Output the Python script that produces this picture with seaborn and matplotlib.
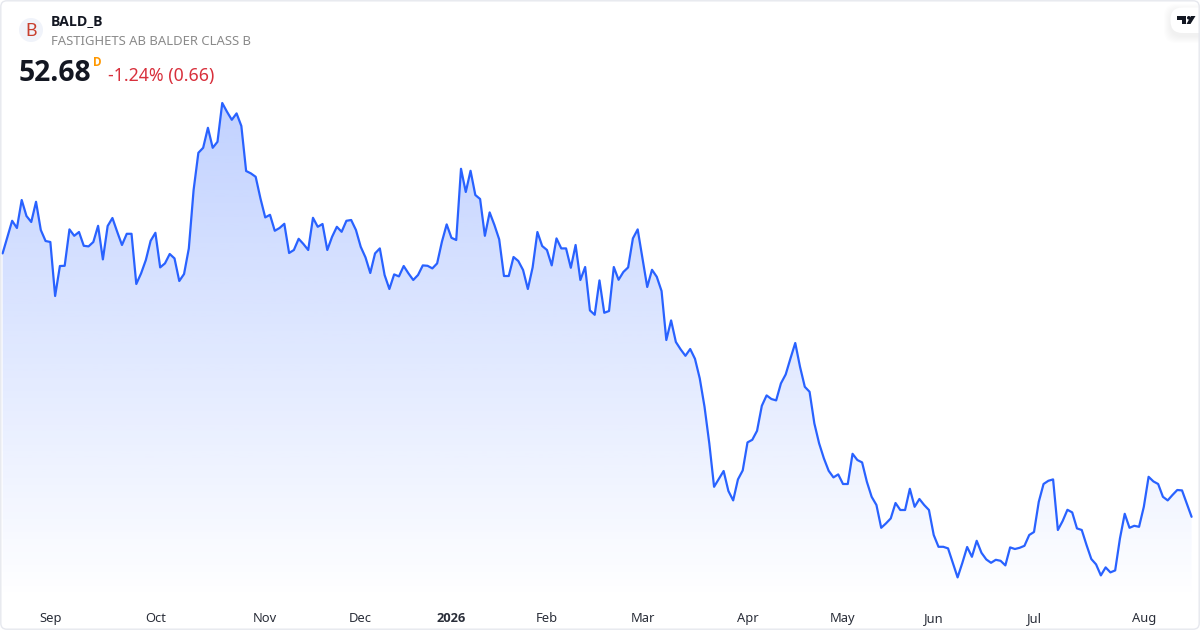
import matplotlib
matplotlib.use('Agg')
import matplotlib.pyplot as plt
from matplotlib.patches import FancyBboxPatch, Circle, Polygon
import seaborn as sns
import pandas as pd
import numpy as np

# Daily closes
closes = [
    65.85, 66.67, 67.48, 67.12, 68.52, 67.72, 67.42, 68.43, 67.02, 66.47,
    66.42, 63.72, 65.22, 65.23, 67.05, 66.73, 66.92, 66.23, 66.20, 66.42,
    67.23, 65.55, 67.22, 67.62, 66.93, 66.27, 66.83, 66.83, 64.32, 64.85,
    65.52, 66.48, 66.88, 65.15, 65.35, 65.82, 65.60, 64.47, 64.82, 66.10,
    69.02, 70.88, 71.13, 72.13, 71.13, 71.43, 73.37, 72.93, 72.53, 72.85,
    72.22, 69.97, 69.85, 69.68, 68.60, 67.65, 67.78, 66.98, 67.12, 67.33,
    65.87, 66.02, 66.58, 66.32, 66.02, 67.63, 67.18, 67.32, 66.02, 66.68,
    67.18, 66.93, 67.48, 67.52, 67.02, 66.18, 65.65, 64.87, 65.85, 66.10,
    64.77, 64.07, 64.80, 64.70, 65.22, 64.85, 64.52, 64.77, 65.25, 65.23,
    65.10, 65.35, 66.43, 67.30, 66.63, 66.52, 70.08, 68.92, 69.98, 68.77,
    68.57, 66.73, 67.90, 67.27, 66.55, 64.72, 64.72, 65.67, 65.47, 65.02,
    64.07, 65.15, 66.92, 66.22, 66.02, 65.25, 66.60, 66.10, 66.10, 65.13,
    66.27, 64.52, 65.17, 63.00, 62.78, 64.50, 62.88, 62.97, 65.17, 64.53,
    64.92, 65.15, 66.60, 67.05, 65.60, 64.17, 65.03, 64.68, 63.97, 61.52,
    62.50, 61.42, 61.05, 60.73, 61.07, 60.58, 59.60, 58.18, 56.35, 54.18,
    54.58, 54.97, 53.97, 53.50, 54.55, 55.00, 56.40, 56.53, 56.98, 58.23,
    58.75, 58.57, 58.50, 59.35, 59.80, 60.60, 61.37, 60.18, 59.18, 58.93,
    57.35, 56.35, 55.60, 54.98, 54.65, 54.80, 54.32, 54.32, 55.83, 55.52,
    55.40, 54.43, 53.68, 53.27, 52.13, 52.35, 52.60, 53.37, 53.02, 53.02,
    54.08, 53.18, 53.57, 53.27, 53.02, 51.77, 51.18, 51.18, 51.10, 50.38,
    49.65, 50.38, 51.17, 50.68, 51.48, 50.88, 50.55, 50.38, 50.53, 50.48,
    50.25, 51.15, 51.07, 51.13, 51.23, 51.77, 51.92, 53.43, 54.32, 54.48,
    54.55, 52.02, 52.47, 53.03, 52.90, 52.10, 52.02, 51.27, 50.57, 50.30,
    49.75, 50.15, 49.90, 50.00, 51.60, 52.83, 52.13, 52.23, 52.18, 53.18,
    54.68, 54.45, 54.32, 53.68, 53.50, 53.77, 54.02, 54.00, 53.34, 52.68,
]
month_labels = ['Sep', 'Oct', 'Nov', 'Dec', '2026', 'Feb', 'Mar', 'Apr', 'May', 'Jun', 'Jul', 'Aug']
month_first_session = [10, 32, 55, 75, 94, 114, 134, 156, 176, 195, 216, 239]

LINE = '#2962FF'
W, H = 1200, 630

df = pd.DataFrame({'session': np.arange(len(closes)), 'close': closes})

sns.set_theme(style='white')
plt.rcParams['font.family'] = ['Noto Sans', 'DejaVu Sans']
BOLD = ['Open Sans', 'DejaVu Sans']  # Noto Sans has no bold face here

fig = plt.figure(figsize=(12, 6.3), dpi=100, facecolor='white')
ax = fig.add_axes([0, 0, 1, 1])
ax.set_facecolor('none')

# scale: 4.775 px per session, 20 px per price unit
xlim = (-2.6 / 4.775, (W - 2.6) / 4.775)
ylim = (78.52 - H / 20, 78.52)
base = 78.52 - 600 / 20

# area gradient, clipped to the area under the line
fade = np.zeros((256, 1, 4))
fade[..., :3] = matplotlib.colors.to_rgb(LINE)
fade[:, 0, 3] = np.linspace(0.29, 0.0, 256)
img = ax.imshow(fade, extent=(xlim[0], xlim[1], base, max(closes)), aspect='auto', zorder=1, interpolation='bilinear')
area = ax.fill_between(df['session'], df['close'], base, facecolor='none', edgecolor='none')
img.set_clip_path(area.get_paths()[0], transform=ax.transData)

sns.lineplot(data=df, x='session', y='close', ax=ax, color=LINE, linewidth=1.6, zorder=3)

ax.set_xlim(xlim)
ax.set_ylim(ylim)
ax.set_axis_off()

# overlay in pixel coordinates, y pointing down
over = fig.add_axes([0, 0, 1, 1], facecolor='none')
over.set_xlim(0, W)
over.set_ylim(H, 0)
over.set_axis_off()

# logo pill, soft shadow first
for grow in range(7, 0, -1):
    over.add_patch(FancyBboxPatch((1171 - grow, 8 - grow + 3), 60 + 2 * grow, 25 + 2 * grow,
                                  boxstyle='round,pad=0,rounding_size=12', facecolor='black', alpha=0.007,
                                  edgecolor='none', zorder=4))
over.add_patch(FancyBboxPatch((1170.5, 7.5), 60, 25.5, boxstyle='round,pad=0,rounding_size=12', facecolor='white',
                              edgecolor='none', zorder=5))
for pts in ([(1177, 16), (1186, 16), (1186, 24), (1182, 24), (1182, 19.7), (1177, 19.7)],
            [(1191, 16), (1195.5, 16), (1190.5, 24), (1186.5, 24)]):
    over.add_patch(Polygon(pts, closed=True, facecolor='#131722', edgecolor='none', zorder=6))
over.add_patch(Circle((1188.8, 17.8), 1.8, facecolor='#131722', edgecolor='none', zorder=6))

# card outline
over.add_patch(FancyBboxPatch((0.8, 0.8), W - 1.6, H - 1.6, boxstyle='round,pad=0,rounding_size=6',
                              facecolor='none', edgecolor='#e6e8ee', linewidth=1.0, zorder=7))

# symbol badge
over.add_patch(Circle((31, 30), 12, facecolor='#f0f3fa', edgecolor='none'))
over.text(31, 36.5, 'B', fontsize=13, color='#c8402f', ha='center', va='baseline', family=['Lato', 'DejaVu Sans'])

over.text(51, 25.5, 'BALD_B', fontsize=10.2, fontweight='bold', color='#131722', ha='left', va='baseline', family=BOLD)
over.text(51, 45, 'FASTIGHETS AB BALDER CLASS B', fontsize=9.42, color='#8a8a8a', ha='left', va='baseline')
over.text(19, 81, '52.68', fontsize=20.3, fontweight='bold', color='#131722', ha='left', va='baseline', family=BOLD)
over.text(93.5, 65.7, 'D', fontsize=8.5, fontweight='bold', color='#ff9800', ha='left', va='baseline', family=BOLD)
over.text(108, 81.5, '-1.24% (0.66)', fontsize=12.75, color='#d8303c', ha='left', va='baseline')

# month labels sit on the session scale
for lab, sess in zip(month_labels, month_first_session):
    bold = lab == '2026'
    over.text(2.6 + sess * 4.775, 622, lab, fontsize=9.3, color='#2a2e39', ha='center', va='baseline',
              fontweight='bold' if bold else 'normal', family=BOLD if bold else None)

fig.savefig('out.png', dpi=100)
